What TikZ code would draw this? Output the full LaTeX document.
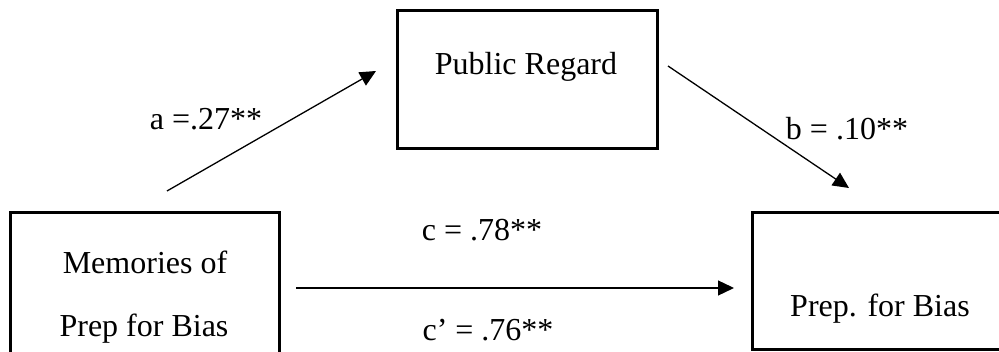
\documentclass[tikz,border=0pt]{standalone}
\usepackage{fontspec}
\setmainfont{Liberation Serif}
\usetikzlibrary{arrows.meta}
\begin{document}
\begin{tikzpicture}[x=1pt,y=-1pt,
  boxline/.style={draw=black,line width=3pt},
  lbl/.style={anchor=base,inner sep=0pt,font=\fontsize{32}{38}\selectfont},
  conn/.style={line width=1.3pt,-{Triangle[length=16pt,width=15pt]}}]
\useasboundingbox (0,0) rectangle (999,352);
\fill[white] (0,0) rectangle (999,352);
\clip (0,0) rectangle (999,352);
% boxes
\path[boxline] (10,213) rectangle (279,400);
\path[boxline] (397,11) rectangle (657,149);
\path[boxline] (752,213) rectangle (1030,350);
% texts
\node[lbl] (mem1) at (145,274) {Memories of};
\node[lbl] (mem2) at (144,337) {Prep for Bias};
\node[lbl] (pub) at (526,75) {Public Regard};
\node[lbl] (prep) at (880,317) {Prep. for Bias};
\node[lbl] (la) at (206,130) {a =.27**};
\node[lbl] (lb) at (847,140) {b = .10**};
\node[lbl] (lc) at (482,241) {c = .78**};
\node[lbl] (lcp) at (488,341) {c’ = .76**};
% connectors
\coordinate (aS) at (167,191);
\coordinate (aE) at (376,71);
\coordinate (bS) at (668,66);
\coordinate (bE) at (849,188);
\coordinate (cS) at (296,288);
\coordinate (cE) at (734,288);
\draw[conn] (aS) -- (aE);
\draw[conn] (bS) -- (bE);
\draw[conn] (cS) -- (cE);
\end{tikzpicture}
\end{document}
